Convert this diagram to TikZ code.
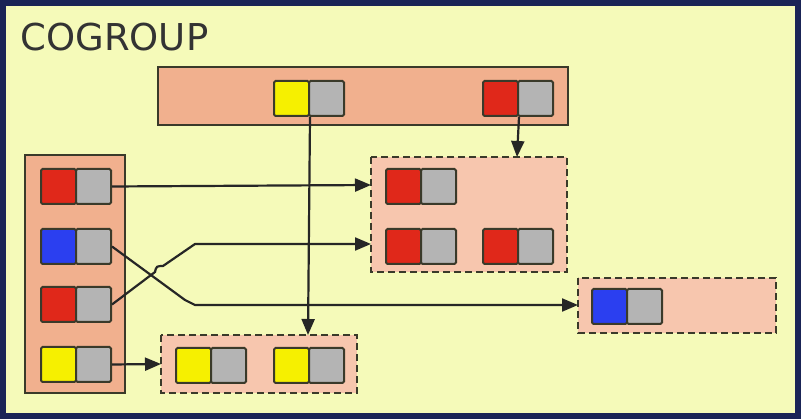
\documentclass[tikz,border=0pt]{standalone}
\usepackage{fontspec}
\setmainfont{DejaVu Sans}
\usetikzlibrary{arrows.meta}
\definecolor{navy}{HTML}{1A2456}
\definecolor{bg}{HTML}{F5FAB9}
\definecolor{sal}{HTML}{F1B08E}
\definecolor{lsal}{HTML}{F7C6AE}
\definecolor{cred}{HTML}{E0281A}
\definecolor{cblue}{HTML}{2B3FF0}
\definecolor{cyel}{HTML}{F6F000}
\definecolor{cgray}{HTML}{B4B4B4}
\definecolor{edge}{HTML}{3A3A2A}
\tikzset{
 half/.style={draw=edge, line width=2pt, minimum size=35pt, inner sep=0pt, rounded corners=1.5pt},
 grp/.style={draw=edge, line width=2pt, fill=sal},
 dgrp/.style={draw=edge, line width=2pt, fill=lsal, dash pattern=on 7pt off 4pt},
 conn/.style={draw=black!85, line width=2.2pt},
 arr/.style={conn, -{Triangle[length=16pt,width=13pt]}}
}
\newcommand{\cellpair}[4]{% name, color, x, y (top-left)
 \node[half, fill=#2, anchor=north west] (#1l) at (#3,#4) {};
 \node[half, fill=cgray, anchor=north west] (#1r) at (#3+35,#4) {};
}
\begin{document}
\begin{tikzpicture}[x=1pt,y=-1pt]
\fill[navy] (0,0) rectangle (801,419);
\fill[bg] (6,6) rectangle (795,413);
\useasboundingbox (0,0) rectangle (801,419);
\node[anchor=west, text=black!80, font=\fontsize{37}{40}\selectfont] (title) at (17,37) {COGROUP};
\draw[grp] (158,67) rectangle (568,125);
\draw[grp] (25,155) rectangle (125,393);
\draw[dgrp] (371,157) rectangle (567,272);
\draw[dgrp] (578,278) rectangle (776,333);
\draw[dgrp] (161,335) rectangle (357,393);
\cellpair{ty}{cyel}{273}{80}
\cellpair{tr}{cred}{482}{80}
\cellpair{la}{cred}{40}{168}
\cellpair{lb}{cblue}{40}{228}
\cellpair{lc}{cred}{40}{286}
\cellpair{ld}{cyel}{40}{346}
\cellpair{aa}{cred}{385}{168}
\cellpair{ab}{cred}{385}{228}
\cellpair{ac}{cred}{482}{228}
\cellpair{ba}{cblue}{591}{288}
\cellpair{ca}{cyel}{175}{347}
\cellpair{cb}{cyel}{273}{347}
\coordinate (gA) at (371,185);
\coordinate (gA2) at (371,244);
\coordinate (gB) at (578,305);
\coordinate (gC) at (161,364);
\draw[arr] (tyl.south east) -- (308,335);
\draw[arr] (trl.south east) -- (517,157);
\draw[arr] (lar.east) -- (gA);
\draw[arr] (lbr.east) -- (185,300) -- (195,305) -- (gB);
\draw[arr] (lcr.east) -- (155,272) to[out=80,in=180,looseness=1.5] (163,266) -- (195,244) -- (gA2);
\draw[arr] (ldr.east) -- (gC);
\end{tikzpicture}
\end{document}
